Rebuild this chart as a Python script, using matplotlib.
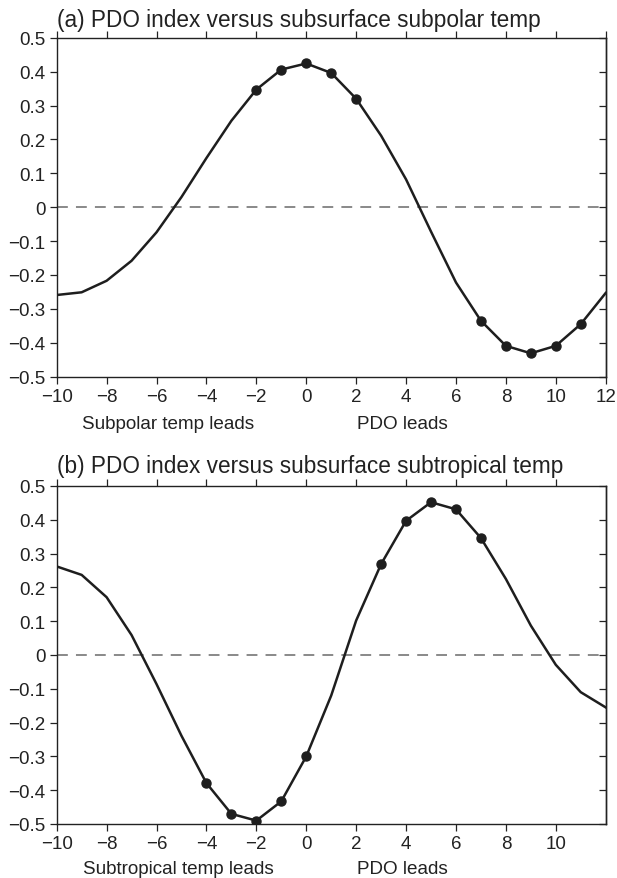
import matplotlib
matplotlib.use("Agg")
import matplotlib.pyplot as plt
import matplotlib.font_manager as fm
import numpy as np

# avoid accidental selection of the Narrow variant
fm.fontManager.ttflist = [f for f in fm.fontManager.ttflist
                          if 'Narrow' not in f.name and 'Narrow' not in f.fname]
plt.rcParams['font.family'] = ['Liberation Sans', 'DejaVu Sans']

lags = list(range(-10, 13))
subpolar = [-0.259, -0.251, -0.217, -0.158, -0.074, 0.030, 0.145, 0.255, 0.347, 0.406,
            0.424, 0.396, 0.320, 0.211, 0.082, -0.072, -0.222, -0.335, -0.409, -0.431,
            -0.409, -0.345, -0.253]
subpolar_sig = [-2, -1, 0, 1, 2, 7, 8, 9, 10, 11]

subtropical = [0.262, 0.237, 0.171, 0.059, -0.086, -0.239, -0.379, -0.470, -0.490, -0.433,
               -0.300, -0.120, 0.102, 0.269, 0.397, 0.452, 0.431, 0.346, 0.225, 0.087,
               -0.029, -0.110, -0.155]
subtropical_sig = [-4, -3, -2, -1, 0, 3, 4, 5, 6, 7]

titles = ["(a) PDO index versus subsurface subpolar temp",
          "(b) PDO index versus subsurface subtropical temp"]
left_labels = ["Subpolar temp leads", "Subtropical temp leads"]
right_label = "PDO leads"
yticks = [-0.5, -0.4, -0.3, -0.2, -0.1, 0, 0.1, 0.2, 0.3, 0.4, 0.5]
ytick_labels = ["\u22120.5", "\u22120.4", "\u22120.3", "\u22120.2", "\u22120.1", "0",
                "0.1", "0.2", "0.3", "0.4", "0.5"]

W, H = 617, 879
fig = plt.figure(figsize=(W / 100, H / 100), dpi=100)

def px_axes(l, t, r, b):
    return fig.add_axes([l / W, 1 - b / H, (r - l) / W, (b - t) / H])

boxes = [(56.7, 38.7, 605.7, 377.7), (56.7, 487.0, 605.7, 825.0)]
series = [subpolar, subtropical]
sigs = [subpolar_sig, subtropical_sig]
xtick_sets = [list(range(-10, 13, 2)), list(range(-10, 11, 2))]
label_base = [429, 874]
left_label_x = [168, 178]
title_base = [26.5, 473]

col = '#1e1e1e'
tc = '#222222'
for i in range(2):
    l, t, r, b = boxes[i]
    ax = px_axes(l, t, r, b)
    vals = series[i]
    ax.axhline(0, color='#808080', lw=1.3, dashes=(6, 4.5), zorder=1)
    ax.plot(lags, vals, color=col, lw=1.8, zorder=3)
    sx = sigs[i]
    sy = [vals[lags.index(x)] for x in sx]
    ax.plot(sx, sy, 'o', color=col, ms=6.5, zorder=4)
    ax.set_xlim(-10, 12)
    ax.set_ylim(-0.5, 0.5)
    ax.set_yticks(yticks)
    ax.set_yticklabels(ytick_labels, fontsize=13.5)
    xt = xtick_sets[i]
    ax.set_xticks(xt)
    ax.set_xticklabels([str(v).replace('-', '\u2212') for v in xt], fontsize=13.5)
    ax.tick_params(axis='both', which='both', direction='out', length=5, width=0.9,
                   colors=tc, pad=3)
    ax.tick_params(top=True, labeltop=False, right=False, labelright=False)
    secy = ax.secondary_yaxis('right')
    secy.set_yticks(yticks)
    secy.set_yticklabels([])
    secy.tick_params(direction='in', length=5, width=0.9, colors=tc)
    secy.spines['right'].set_linewidth(1.0)
    secy.spines['right'].set_color(tc)
    for s in ax.spines.values():
        s.set_linewidth(1.0)
        s.set_color(tc)
    fig.text(l / W, 1 - title_base[i] / H, titles[i], fontsize=16.3, ha='left',
             va='baseline', color=tc)
    fig.text(left_label_x[i] / W, 1 - label_base[i] / H, left_labels[i], fontsize=13.6,
             ha='center', va='baseline', color=tc)
    fig.text(402 / W, 1 - label_base[i] / H, right_label, fontsize=13.6, ha='center',
             va='baseline', color=tc)

fig.savefig('out.png', dpi=100)
